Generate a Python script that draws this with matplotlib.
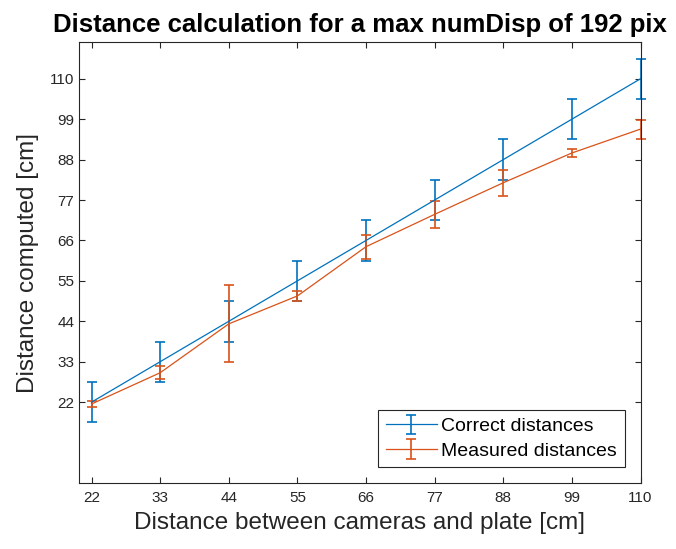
import numpy as np
import matplotlib
matplotlib.use('Agg')
from matplotlib import pyplot as plt

plt.rcParams['font.family'] = ['Liberation Sans', 'DejaVu Sans']

# distances between cameras and plate [cm]
dist = [22, 33, 44, 55, 66, 77, 88, 99, 110]
correct = [22, 33, 44, 55, 66, 77, 88, 99, 110]
correct_err = [5.5, 5.5, 5.5, 5.5, 5.5, 5.5, 5.5, 5.5, 5.5]
measured = [21.5, 30.0, 43.3, 50.9, 64.3, 73.1, 81.7, 89.8, 96.3]
measured_err = [0.8, 1.8, 10.5, 1.3, 3.3, 3.7, 3.5, 1.1, 2.6]
ticks = [22, 33, 44, 55, 66, 77, 88, 99, 110]

blue = '#0072BD'
orange = '#D95319'
grey = '#262626'

fig = plt.figure(figsize=(6.76, 5.49), dpi=100)
ax = fig.add_axes([0.1169, 0.1202, 0.8306, 0.8033])

ax.errorbar(dist, correct, yerr=correct_err, color=blue, lw=0.9, elinewidth=1.2,
            capsize=3.6, capthick=1.2, clip_on=False, label='Correct distances')
ax.errorbar(dist, measured, yerr=measured_err, color=orange, lw=0.9, elinewidth=1.2,
            capsize=3.6, capthick=1.2, clip_on=False, label='Measured distances')

ax.set_xlim(20, 110)
ax.set_ylim(0, 120)
ax.set_xticks(ticks)
ax.set_yticks(ticks)
ax.tick_params(direction='in', top=True, right=True, length=4, width=0.8,
               colors=grey, labelsize=11)
ax.tick_params(axis='x', pad=6)
for s in ax.spines.values():
    s.set_color(grey)
    s.set_linewidth(0.8)

ax.set_title('Distance calculation for a max numDisp of 192 pix', fontsize=18.5,
             fontweight='bold', pad=7)
ax.set_xlabel('Distance between cameras and plate [cm]', fontsize=17.5, color=grey, labelpad=5)
ax.set_ylabel('Distance computed [cm]', fontsize=17.5, color=grey, labelpad=8)

leg = ax.legend(loc='lower right', fontsize=14, fancybox=False, framealpha=1,
                edgecolor=grey, handlelength=2.6, borderpad=0.4, labelspacing=0.35,
                handletextpad=0.25, borderaxespad=0.8)
leg.get_frame().set_linewidth(0.8)

plt.savefig('out.png', dpi=100)
